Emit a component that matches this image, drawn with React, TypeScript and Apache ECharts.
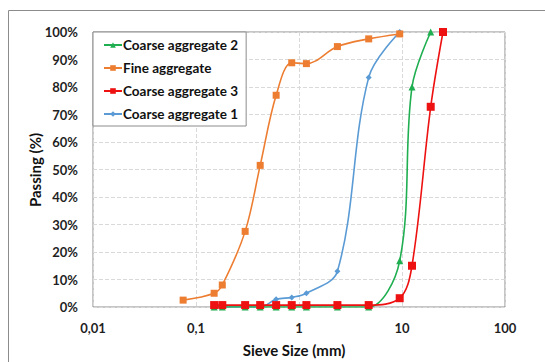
import React, { useEffect, useRef } from "react";
import * as echarts from "echarts";

const sieveFine = [0.075, 0.15, 0.18, 0.3, 0.42, 0.6, 0.85, 1.18, 2.36, 4.75, 9.5];
const passFine = [2.5, 5, 8, 27.5, 51.5, 77, 88.8, 88.5, 94.7, 97.5, 99.3];

const sieveCA1 = [0.15, 0.18, 0.3, 0.42, 0.6, 0.85, 1.18, 2.36, 4.75, 9.5];
const passCA1 = [0, 0, 0, 0, 2.8, 3.5, 5, 13, 83.5, 100];

const sieveCA2 = [0.15, 0.18, 0.3, 0.42, 0.6, 0.85, 1.18, 2.36, 4.75, 9.5, 12.5, 19];
const passCA2 = [0, 0, 0, 0, 0, 0, 0, 0, 0, 16.8, 80, 100];

const sieveCA3 = [0.15, 0.18, 0.3, 0.42, 0.6, 0.85, 1.18, 2.36, 4.75, 9.5, 12.5, 19, 25];
const passCA3 = [0.7, 0.7, 0.7, 0.7, 0.7, 0.7, 0.7, 0.7, 0.7, 3.2, 15, 72.8, 100];

const xTickLabels: Record<string, string> = { "0.01": "0,01", "0.1": "0,1", "1": "1", "10": "10", "100": "100" };

const FONT = "Lato, 'Open Sans', sans-serif";

function pairs(xs: number[], ys: number[]) {
  return xs.map((x, i) => [x, ys[i]]);
}

export default function App() {
  const ref = useRef<HTMLDivElement>(null);
  useEffect(() => {
    if (!ref.current) return;
    const chart = echarts.init(ref.current, undefined, { renderer: "svg" });
    const mk = (name: string, color: string, symbol: string, size: number, xs: number[], ys: number[], z: number) => ({
      name,
      type: "line",
      data: pairs(xs, ys),
      smooth: 0.35,
      symbol,
      symbolSize: size,
      showSymbol: true,
      z,
      lineStyle: { color, width: 1.6 },
      itemStyle: { color, borderWidth: 0 },
    });
    chart.setOption({
      animation: false,
      backgroundColor: "#fff",
      grid: {
        left: 93,
        top: 32,
        width: 412,
        height: 275,
        show: true,
        borderColor: "#8c8c8c",
        borderWidth: 1,
        backgroundColor: "transparent",
      },
      xAxis: {
        type: "log",
        logBase: 10,
        min: 0.01,
        max: 100,
        axisLine: { show: false },
        axisTick: { show: false },
        splitLine: { show: true, lineStyle: { color: "#d9d9d9", type: "dashed", width: 1 } },
        axisLabel: {
          color: "#1f1f1f",
          fontFamily: FONT,
          fontWeight: "bold",
          fontSize: 13,
          margin: 14,
          formatter: (v: number) => {
            const k = String(+v.toPrecision(3));
            return xTickLabels[k] ?? k;
          },
        },
      },
      yAxis: {
        type: "value",
        min: 0,
        max: 100,
        interval: 10,
        axisLine: { show: false },
        axisTick: { show: false },
        splitLine: { show: true, lineStyle: { color: "#d9d9d9", type: "dashed", width: 1 } },
        axisLabel: {
          color: "#1f1f1f",
          fontFamily: FONT,
          fontWeight: "bold",
          fontSize: 13,
          margin: 15,
          formatter: "{value}%",
        },
      },
      legend: {
        orient: "vertical",
        left: 93,
        top: 32,
        padding: [6, 8, 5, 10],
        itemGap: 9,
        itemWidth: 18,
        itemHeight: 7,
        backgroundColor: "#fff",
        borderColor: "#8c8c8c",
        borderWidth: 1,
        borderRadius: 0,
        textStyle: {
          color: "#111",
          fontFamily: FONT,
          fontWeight: "bold",
          fontSize: 13.5,
          height: 14,
          lineHeight: 14,
          padding: [0, 0, 0, -4],
        },
        data: ["Coarse aggregate 2", "Fine aggregate", "Coarse aggregate 3", "Coarse aggregate 1"],
        z: 10,
      },
      graphic: [
        {
          type: "rect",
          shape: { x: 8.5, y: 10.5, width: 700, height: 500 },
          style: { fill: "none", stroke: "#8c8c8c", lineWidth: 1 },
          silent: true,
        },
        {
          type: "text",
          x: 35,
          y: 170,
          rotation: Math.PI / 2,
          style: {
            text: "Passing (%)",
            fontFamily: FONT,
            fontWeight: "bold",
            fontSize: 15,
            fill: "#111",
            textAlign: "center",
            textVerticalAlign: "middle",
          },
        },
        {
          type: "text",
          x: 294,
          y: 350,
          style: {
            text: "Sieve Size (mm)",
            fontFamily: FONT,
            fontWeight: "bold",
            fontSize: 15,
            fill: "#111",
            textAlign: "center",
            textVerticalAlign: "middle",
          },
        },
      ],
      series: [
        mk("Coarse aggregate 2", "#1fae50", "triangle", 7, sieveCA2, passCA2, 2),
        mk("Fine aggregate", "#ed7d31", "rect", 7, sieveFine, passFine, 3),
        mk("Coarse aggregate 3", "#ee1111", "rect", 8, sieveCA3, passCA3, 4),
        mk("Coarse aggregate 1", "#5b9bd5", "diamond", 6, sieveCA1, passCA1, 1),
      ],
    });
    return () => chart.dispose();
  }, []);
  return <div ref={ref} style={{ position: "fixed", left: 0, top: 0, width: 545, height: 362 }} />;
}
